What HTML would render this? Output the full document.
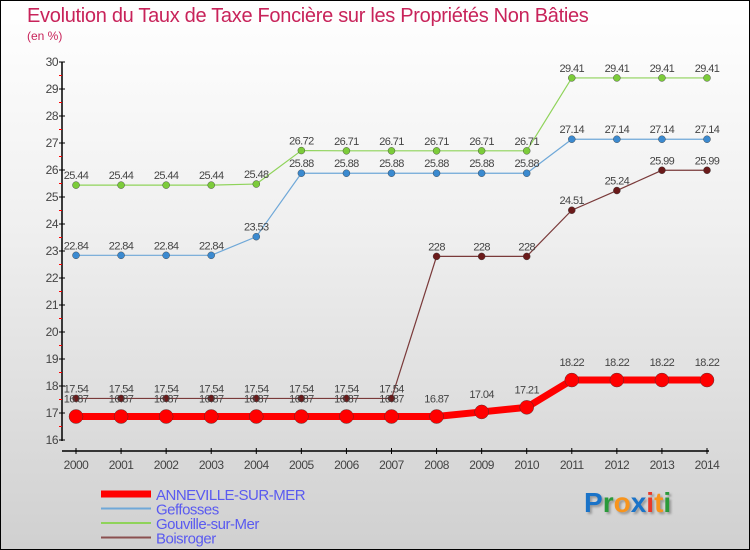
<!DOCTYPE html>
<html><head><meta charset="utf-8">
<style>
body{margin:0}
#wrap{position:relative;width:748px;height:548px;border:1px solid #000;background:linear-gradient(#fff,#f0f0f0 40%,#d0d0d0);font-family:"Liberation Sans",sans-serif;overflow:hidden}
.t{position:absolute}
</style></head><body>
<div id="wrap">
<div class="t" style="left:26px;top:4px;font-size:20px;color:#c8235a;letter-spacing:-0.3px">Evolution du Taux de Taxe Foncière sur les Propriétés Non Bâties</div>
<div class="t" style="left:26px;top:28px;font-size:12px;color:#c8235a">(en %)</div>
<svg id="svg" width="748" height="548" style="position:absolute;left:0;top:0"></svg>
<div class="t" style="left:583px;top:486px;font-size:28px;font-weight:bold;text-shadow:2px 2px 2px #999"><span style="color:#1a73c8">P</span><span style="color:#2a9a3a">r</span><span style="color:#f7941d">o</span><span style="color:#1a73c8">x</span><span style="color:#e8392a">i</span><span style="color:#f7941d">t</span><span style="color:#2a9a3a">i</span></div>
</div>
<script>
const years=[2000,2001,2002,2003,2004,2005,2006,2007,2008,2009,2010,2011,2012,2013,2014];
const anneville=[16.87,16.87,16.87,16.87,16.87,16.87,16.87,16.87,16.87,17.04,17.21,18.22,18.22,18.22,18.22];
const geffosses=[22.84,22.84,22.84,22.84,23.53,25.88,25.88,25.88,25.88,25.88,25.88,27.14,27.14,27.14,27.14];
const gouville=[25.44,25.44,25.44,25.44,25.48,26.72,26.71,26.71,26.71,26.71,26.71,29.41,29.41,29.41,29.41];
const boisroger=[17.54,17.54,17.54,17.54,17.54,17.54,17.54,17.54,22.8,22.8,22.8,24.51,25.24,25.99,25.99];
const boisLabels=["17.54","17.54","17.54","17.54","17.54","17.54","17.54","17.54","228","228","228","24.51","25.24","25.99","25.99"];
const yTicks=[16,17,18,19,20,21,22,23,24,25,26,27,28,29,30];
const NS="http://www.w3.org/2000/svg";
const svg=document.getElementById('svg');
const X=i=>75+i*(706-75)/14;
const Y=v=>439-(v-16)*27;
function el(tag,attrs,parent){const e=document.createElementNS(NS,tag);for(const k in attrs)e.setAttribute(k,attrs[k]);(parent||svg).appendChild(e);return e;}
// axes
let a=el('line',{x1:61,y1:61,x2:61,y2:440,stroke:'#000','stroke-width':1.5});

a=el('line',{x1:61,y1:450,x2:708,y2:450,stroke:'#000','stroke-width':1.5});

yTicks.forEach(v=>{
  el('line',{x1:58,y1:Y(v),x2:64,y2:Y(v),stroke:'#000'});
  if(v<30) el('line',{x1:58,y1:Y(v+0.5),x2:61,y2:Y(v+0.5),stroke:'#f00'});
  const t=el('text',{x:57,y:Y(v)+4,'text-anchor':'end','font-size':12,fill:'#444','letter-spacing':'-0.5'});
  t.textContent=v;
  
});
years.forEach((y,i)=>{
  el('line',{x1:X(i),y1:447,x2:X(i),y2:453,stroke:'#000'});
  const t=el('text',{x:X(i),y:468,'text-anchor':'middle','font-size':12,fill:'#444','letter-spacing':'-0.5'});
  t.textContent=y;
  
});
function series(name,vals,labels,color,w,r,dot,ly){
  const g=el('g',{});
  
  el('polyline',{points:vals.map((v,i)=>X(i)+','+Y(v)).join(' '),fill:'none',stroke:color,'stroke-width':w},g);
  vals.forEach((v,i)=>{
    const c=el('circle',{cx:X(i),cy:Y(v),r:r,fill:dot,stroke:'#333','stroke-width':0.4},g);
    
    const t=el('text',{x:X(i),y:Y(v)+ly,'text-anchor':'middle','font-size':11,fill:'#444','letter-spacing':'-0.6'},g);
    t.textContent=labels?labels[i]:String(v);
    
  });
}
series('gouville',gouville,null,'#8fd35a',1.2,3.5,'#7ccc3a',-6);
series('geffosses',geffosses,null,'#6fa8d8',1.2,3.5,'#3b8ad0',-6);
series('boisroger',boisroger,boisLabels,'#7a3a3a',1.2,3.5,'#6b1a1a',-6);
series('anneville',anneville,null,'#f00',7,7,'#f00',-14);
// legend
const leg=[['ANNEVILLE-SUR-MER','#f00',7],['Geffosses','#6fa8d8',2],['Gouville-sur-Mer','#8fd35a',2],['Boisroger','#8a5050',2]];
leg.forEach((l,i)=>{
  const yy=493+i*14.5;
  const g=el('g',{});
  
  el('line',{x1:100,y1:yy,x2:150,y2:yy,stroke:l[1],'stroke-width':l[2]},g);
  const t=el('text',{x:155,y:yy+6,'font-size':15,fill:'#5a5af0','letter-spacing':'-0.5'},g);
  t.textContent=l[0];
});
</script>
</body></html>
